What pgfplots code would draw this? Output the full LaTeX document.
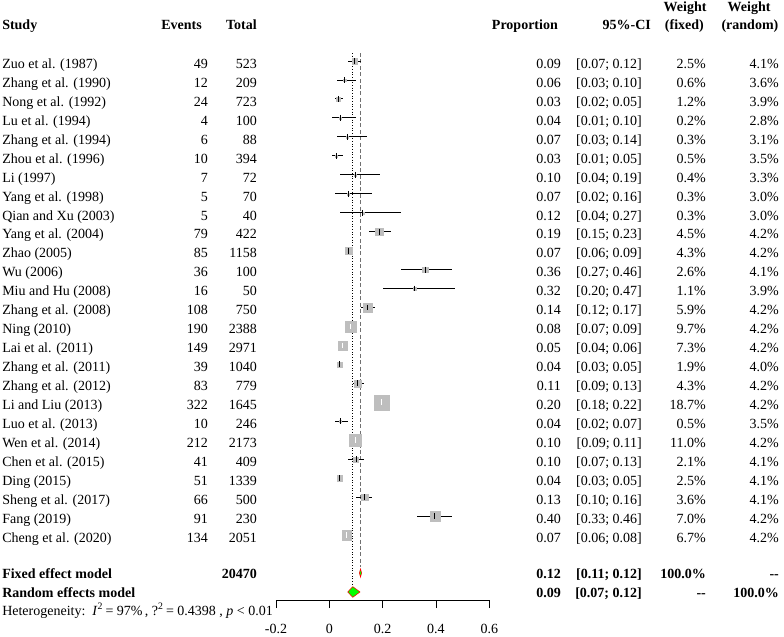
\documentclass[border=0pt]{standalone}
\usepackage{pgfplots}
\pgfplotsset{compat=1.18}
\usepackage{pgfplotstable}
\usepackage{fontspec}
\setmainfont{Liberation Serif}
\definecolor{sqgray}{HTML}{BEBEBE}
\definecolor{dashgray}{HTML}{707070}

% studies whose CI line is drawn in black
\pgfplotstableread{
p     lo    hi    w     y
0.094 0.07  0.12  2.5   -1
0.057 0.03  0.10  0.6   -2
0.033 0.02  0.05  1.2   -3
0.040 0.01  0.10  0.2   -4
0.068 0.03  0.14  0.3   -5
0.025 0.01  0.05  0.5   -6
0.097 0.04  0.19  0.4   -7
0.071 0.02  0.16  0.3   -8
0.125 0.04  0.27  0.3   -9
0.187 0.15  0.23  4.5   -10
0.073 0.06  0.09  4.3   -11
0.360 0.27  0.46  2.6   -12
0.320 0.20  0.47  1.1   -13
0.144 0.12  0.17  5.9   -14
0.037 0.03  0.05  1.9   -17
0.107 0.09  0.13  4.3   -18
0.041 0.02  0.07  0.5   -20
0.100 0.07  0.13  2.1   -22
0.038 0.03  0.05  2.5   -23
0.132 0.10  0.16  3.6   -24
0.396 0.33  0.46  7.0   -25
}\studiesB
% studies whose CI lies inside the square (line drawn in white)
\pgfplotstableread{
p     lo    hi    w     y
0.080 0.07  0.09  9.7   -15
0.050 0.04  0.06  7.3   -16
0.196 0.18  0.22  18.7  -19
0.098 0.09  0.11  11.0  -21
0.065 0.06  0.08  6.7   -26
}\studiesW

\newcommand\rowtext[8]{%
  \pgfmathsetmacro\by{61+(#1-1)*18.96+7.3}%
  \node[anchor=base west] at (2,\by) {#2};
  \node[anchor=base east] at (208,\by) {#3};
  \node[anchor=base east] at (257,\by) {#4};
  \node[anchor=base east] at (561,\by) {#5};
  \node[anchor=base east] at (642,\by) {#6};
  \node[anchor=base east] at (706,\by) {#7};
  \node[anchor=base east] at (779,\by) {#8};
}

\begin{document}
\begin{tikzpicture}[font=\fontsize{10.5}{12.6}\selectfont]
\begin{axis}[
  x=200pt, y=14.22pt,
  xmin=-0.2, xmax=0.6, ymin=-29.43, ymax=2.5,
  axis x line=bottom, axis y line=none,
  axis line style={-, black, line width=0.6pt},
  clip=false,
  xtick={-0.2,0,0.2,0.4,0.6},
  xticklabels={-0.2,0,0.2,0.4,0.6},
  tick align=outside, major tick length=6pt,
  tick style={black, line width=0.6pt},
  ytick=\empty,
  xticklabel style={font=\fontsize{10.5}{12.6}\selectfont, yshift=-8.5pt},
  /pgf/number format/assume math mode=true,
]
% reference lines
\addplot[dashgray, line width=0.9pt, dash pattern=on 3pt off 1.8pt] coordinates {(0.117,-0.58) (0.117,-27.69)};
\addplot[black, line width=0.65pt, dash pattern=on 0.6pt off 1.4pt] coordinates {(0.088,-0.58) (0.088,-28.64)};
% squares (area proportional to fixed weight)
\addplot[scatter, only marks, mark=square*, sqgray,
  mark options={draw=sqgray, fill=sqgray, line width=0.1pt},
  visualization depends on={1.33*sqrt(\thisrow{w}) \as \msz},
  scatter/use mapped color={draw=sqgray, fill=sqgray},
  scatter/@pre marker code/.append style={/tikz/mark size=\msz}]
  table[x=p, y=y] \studiesB;
\addplot[scatter, only marks, mark=square*, sqgray,
  mark options={draw=sqgray, fill=sqgray, line width=0.1pt},
  visualization depends on={1.33*sqrt(\thisrow{w}) \as \msz},
  scatter/use mapped color={draw=sqgray, fill=sqgray},
  scatter/@pre marker code/.append style={/tikz/mark size=\msz}]
  table[x=p, y=y] \studiesW;
% CI lines and estimate ticks
\addplot[black, only marks, mark=|, mark size=2.2pt, mark options={line width=0.7pt},
  error bars/.cd, x dir=both, x explicit, error mark=none,
  error bar style={line width=0.7pt, black}]
  table[x=p, y=y, x error plus expr=\thisrow{hi}-\thisrow{p}, x error minus expr=\thisrow{p}-\thisrow{lo}] \studiesB;
\addplot[white, only marks, mark=|, mark size=2.2pt, mark options={line width=0.7pt},
  error bars/.cd, x dir=both, x explicit, error mark=none,
  error bar style={line width=0.7pt, white}]
  table[x=p, y=y, x error plus expr=\thisrow{hi}-\thisrow{p}, x error minus expr=\thisrow{p}-\thisrow{lo}] \studiesW;
% pooled diamonds
\addplot[fill=green, draw=red, line width=0.4pt] coordinates {(0.113,-28) (0.117,-27.78) (0.121,-28) (0.117,-28.22)} -- cycle;
\addplot[fill=green, draw=red, line width=0.4pt] coordinates {(0.069,-29) (0.088,-28.72) (0.115,-29) (0.088,-29.28)} -- cycle;
\coordinate (O) at (axis cs:-1.23475,2.21730);
\coordinate (E) at (axis cs:1.70486,-31.32700);
\end{axis}
\begin{scope}[shift={(O)}, x=0.75pt, y=-0.75pt, every node/.style={inner sep=0pt}]
  % header
  \node[anchor=base west] at (2,29.3) {\bfseries Study};
  \node[anchor=base east] at (202,29.3) {\bfseries Events};
  \node[anchor=base east] at (257,29.3) {\bfseries Total};
  \node[anchor=base east] at (558,29.3) {\bfseries Proportion};
  \node[anchor=base east] at (651,29.3) {\bfseries 95\%-CI};
  \node[anchor=base] at (685,11.7) {\bfseries Weight};
  \node[anchor=base east] at (704,29.3) {\bfseries (fixed)};
  \node[anchor=base] at (749,11.7) {\bfseries Weight};
  \node[anchor=base east] at (778.5,29.3) {\bfseries (random)};
  % studies
  \rowtext{1}{Zuo et al. (1987)}{49}{523}{0.09}{[0.07; 0.12]}{2.5\%}{4.1\%}
  \rowtext{2}{Zhang et al. (1990)}{12}{209}{0.06}{[0.03; 0.10]}{0.6\%}{3.6\%}
  \rowtext{3}{Nong et al. (1992)}{24}{723}{0.03}{[0.02; 0.05]}{1.2\%}{3.9\%}
  \rowtext{4}{Lu et al. (1994)}{4}{100}{0.04}{[0.01; 0.10]}{0.2\%}{2.8\%}
  \rowtext{5}{Zhang et al. (1994)}{6}{88}{0.07}{[0.03; 0.14]}{0.3\%}{3.1\%}
  \rowtext{6}{Zhou et al. (1996)}{10}{394}{0.03}{[0.01; 0.05]}{0.5\%}{3.5\%}
  \rowtext{7}{Li (1997)}{7}{72}{0.10}{[0.04; 0.19]}{0.4\%}{3.3\%}
  \rowtext{8}{Yang et al. (1998)}{5}{70}{0.07}{[0.02; 0.16]}{0.3\%}{3.0\%}
  \rowtext{9}{Qian and Xu (2003)}{5}{40}{0.12}{[0.04; 0.27]}{0.3\%}{3.0\%}
  \rowtext{10}{Yang et al. (2004)}{79}{422}{0.19}{[0.15; 0.23]}{4.5\%}{4.2\%}
  \rowtext{11}{Zhao (2005)}{85}{1158}{0.07}{[0.06; 0.09]}{4.3\%}{4.2\%}
  \rowtext{12}{Wu (2006)}{36}{100}{0.36}{[0.27; 0.46]}{2.6\%}{4.1\%}
  \rowtext{13}{Miu and Hu (2008)}{16}{50}{0.32}{[0.20; 0.47]}{1.1\%}{3.9\%}
  \rowtext{14}{Zhang et al. (2008)}{108}{750}{0.14}{[0.12; 0.17]}{5.9\%}{4.2\%}
  \rowtext{15}{Ning (2010)}{190}{2388}{0.08}{[0.07; 0.09]}{9.7\%}{4.2\%}
  \rowtext{16}{Lai et al. (2011)}{149}{2971}{0.05}{[0.04; 0.06]}{7.3\%}{4.2\%}
  \rowtext{17}{Zhang et al. (2011)}{39}{1040}{0.04}{[0.03; 0.05]}{1.9\%}{4.0\%}
  \rowtext{18}{Zhang et al. (2012)}{83}{779}{0.11}{[0.09; 0.13]}{4.3\%}{4.2\%}
  \rowtext{19}{Li and Liu (2013)}{322}{1645}{0.20}{[0.18; 0.22]}{18.7\%}{4.2\%}
  \rowtext{20}{Luo et al. (2013)}{10}{246}{0.04}{[0.02; 0.07]}{0.5\%}{3.5\%}
  \rowtext{21}{Wen et al. (2014)}{212}{2173}{0.10}{[0.09; 0.11]}{11.0\%}{4.2\%}
  \rowtext{22}{Chen et al. (2015)}{41}{409}{0.10}{[0.07; 0.13]}{2.1\%}{4.1\%}
  \rowtext{23}{Ding (2015)}{51}{1339}{0.04}{[0.03; 0.05]}{2.5\%}{4.1\%}
  \rowtext{24}{Sheng et al. (2017)}{66}{500}{0.13}{[0.10; 0.16]}{3.6\%}{4.1\%}
  \rowtext{25}{Fang (2019)}{91}{230}{0.40}{[0.33; 0.46]}{7.0\%}{4.2\%}
  \rowtext{26}{Cheng et al. (2020)}{134}{2051}{0.07}{[0.06; 0.08]}{6.7\%}{4.2\%}
  % pooled rows
  \node[anchor=base west] at (2,578.3) {\bfseries Fixed effect model};
  \node[anchor=base east] at (257,578.3) {\bfseries 20470};
  \node[anchor=base east] at (561,578.3) {\bfseries 0.12};
  \node[anchor=base east] at (642,578.3) {\bfseries [0.11; 0.12]};
  \node[anchor=base east] at (706,578.3) {\bfseries 100.0\%};
  \node[anchor=base east] at (779,578.3) {\bfseries -{}-};
  \node[anchor=base west] at (2,597.3) {\bfseries Random effects model};
  \node[anchor=base east] at (561,597.3) {\bfseries 0.09};
  \node[anchor=base east] at (642,597.3) {\bfseries [0.07; 0.12]};
  \node[anchor=base east] at (706,597.3) {\bfseries -{}-};
  \node[anchor=base east] at (779,597.3) {\bfseries 100.0\%};
  \node[anchor=base west] at (2,615) {Heterogeneity:\ \ \textit{I}\textsuperscript{2}\,= 97\%\,, ?\textsuperscript{2}\,= 0.4398 , \textit{p} < 0.01};
\end{scope}
\pgfresetboundingbox
\path[use as bounding box] (O) rectangle (E);
\end{tikzpicture}
\end{document}
